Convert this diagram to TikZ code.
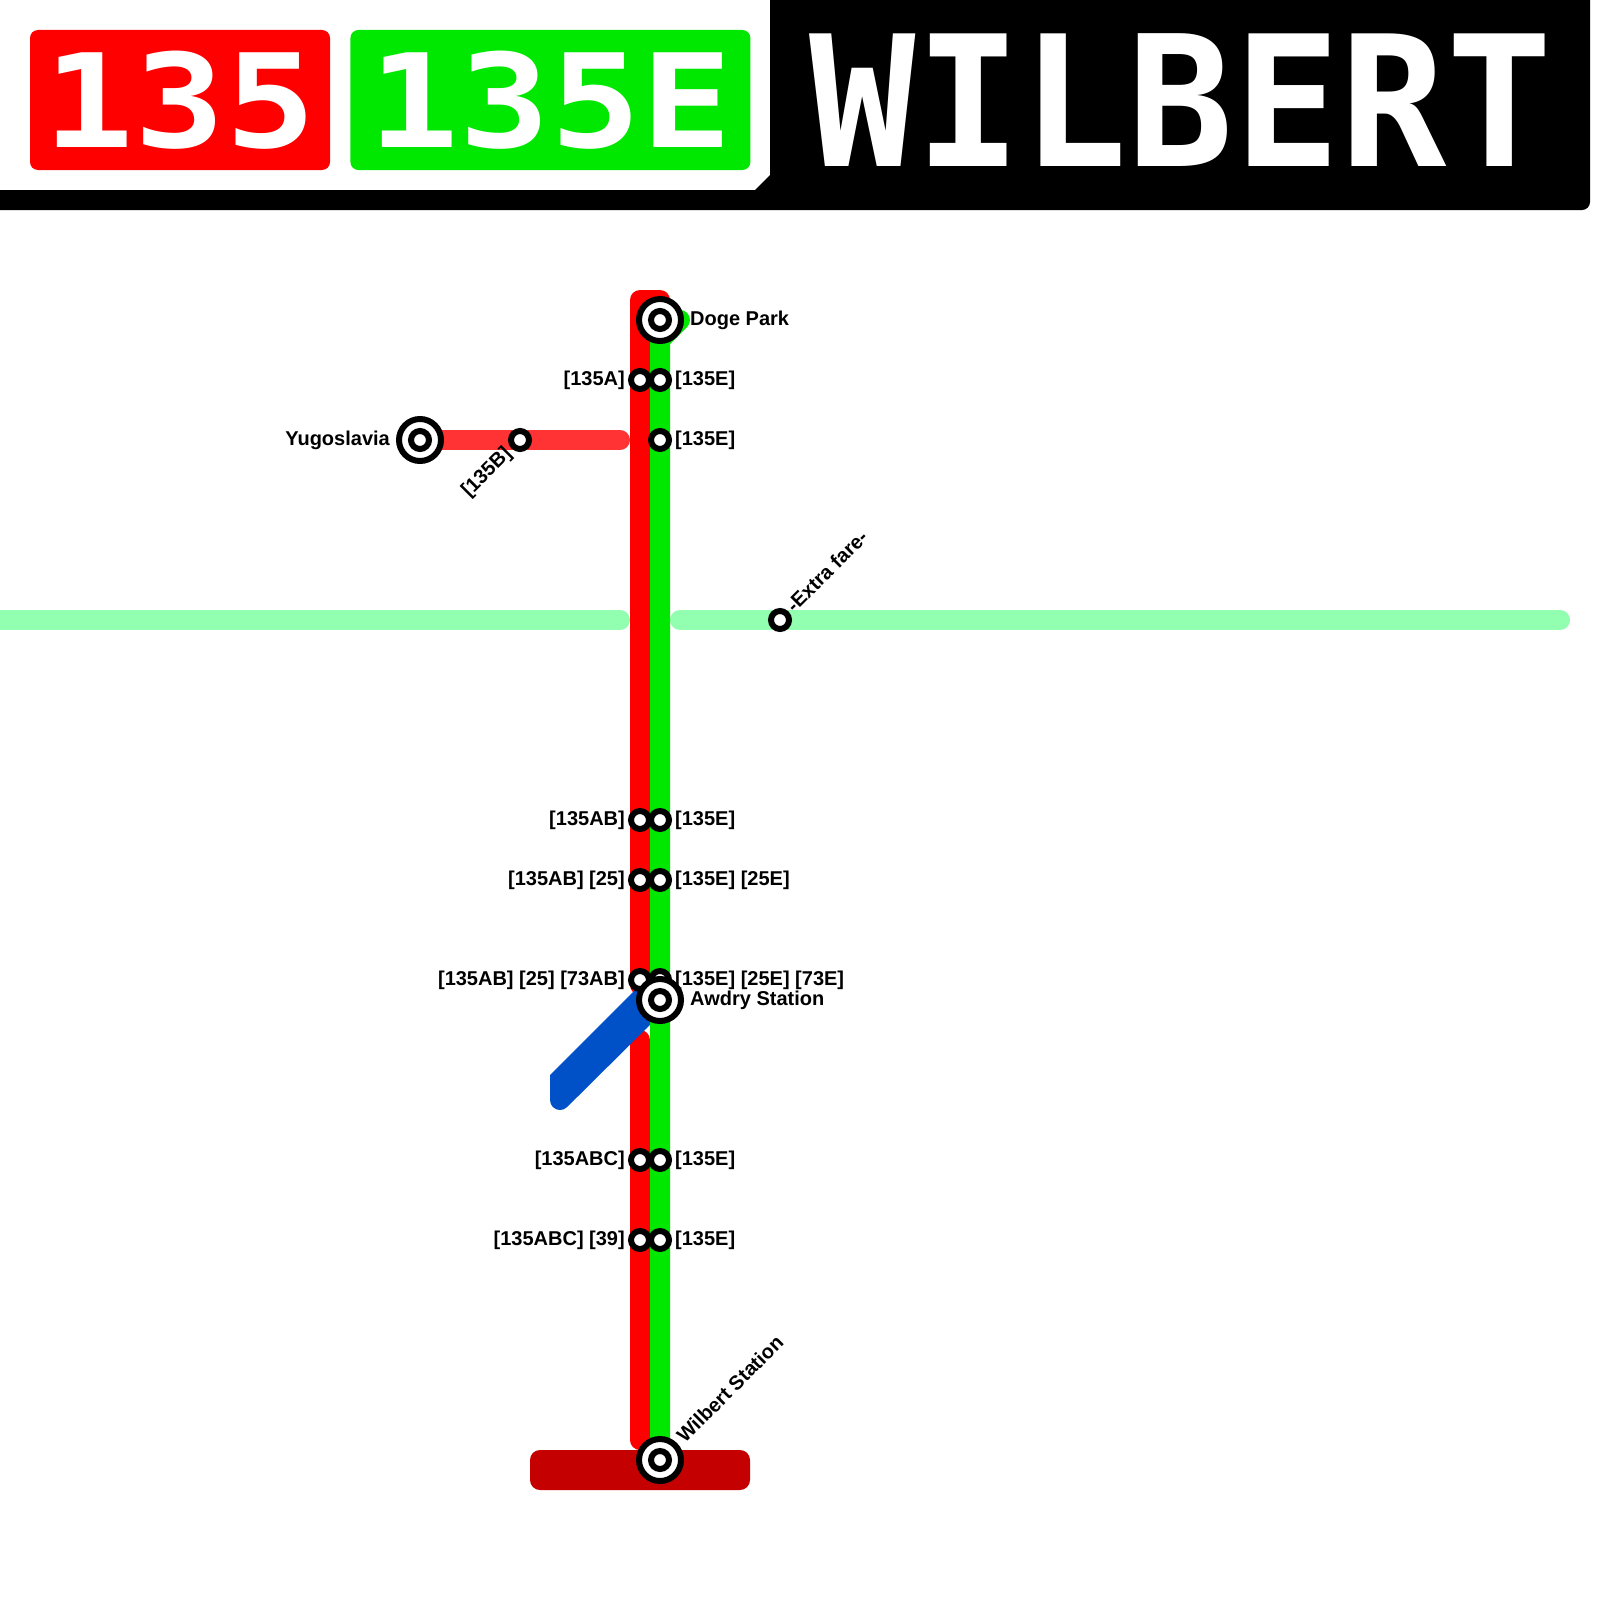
\documentclass[tikz,border=0pt]{standalone}
\usepackage{graphicx}
\usepackage{fontspec}
\setmainfont{Liberation Sans}
\newfontfamily\signfont{DejaVu Sans Mono}
\usepackage{xcolor}
\usetikzlibrary{positioning}
\definecolor{lineRed}{RGB}{255, 0, 0}
\definecolor{lineGreen}{RGB}{0, 232, 0}
\definecolor{paleGreen}{RGB}{145, 255, 175}
\definecolor{paleRed}{RGB}{255, 51, 51}
\definecolor{darkRed}{RGB}{196, 0, 0}
\definecolor{lineBlue}{RGB}{0, 80, 200}
\tikzset{
    route/.style={line width=20pt, line cap=round, line join=round},
    stn/.style={circle, draw=black, fill=white, line width=6pt, minimum size=18pt, inner sep=0pt},
    bigstn/.style={circle, draw=black, fill=white, line width=6pt, minimum size=42pt, inner sep=0pt,
        path picture={\draw[black, line width=6pt] (path picture bounding box.center) circle (9pt);}},
    lbl/.style={font=\bfseries\fontsize{20}{20}\selectfont, text=black, inner sep=0pt, text height=15pt, text depth=4pt},
    badge/.style={rounded corners=8pt, minimum height=140pt, inner sep=0pt, text=white,
        font=\signfont\bfseries\fontsize{130}{130}\selectfont},
}
\begin{document}
\begin{tikzpicture}[x=1pt, y=-1pt]
    \useasboundingbox (0,0) rectangle (1600,1600);
    % header
    \fill[black] (770,0) -- (1590,0) [rounded corners=8pt] -- (1590,210) [sharp corners] -- (0,210) -- (0,190) -- (755,190) -- (770,175) -- cycle;
    \node[badge, fill=lineRed, minimum width=300pt] (badgeA) at (180,100) {\scalebox{1.16}[1]{135}};
    \node[badge, fill=lineGreen, minimum width=400pt, right=20pt of badgeA] (badgeE) {\scalebox{1.16}[1]{135E}};
    \node[text=white, inner sep=0pt, font=\signfont\bfseries\fontsize{182}{182}\selectfont] (title) at (1181,100) {\scalebox{.97}[1]{WILBERT}};
    % line ends
    \coordinate (cdoge) at (660,320);
    \coordinate (cyug) at (420,440);
    \coordinate (cawdry) at (660,1000);
    \coordinate (cwilbert) at (660,1460);
    \coordinate (redtop) at (660,300);
    \coordinate (redbend) at (640,300);
    \coordinate (redcut) at (640,985);
    \coordinate (redrestart) at (640,1040);
    \coordinate (redend) at (640,1440);
    \coordinate (greentip) at (680,320);
    \coordinate (greenbend) at (660,340);
    \coordinate (branchend) at (620,440);
    \coordinate (farewest) at (-20,620);
    \coordinate (farewestend) at (620,620);
    \coordinate (fareeast) at (680,620);
    \coordinate (fareeastend) at (1560,620);
    % lines
    \draw[route, paleGreen] (farewest) -- (farewestend);
    \draw[route, paleGreen] (fareeast) -- (fareeastend);
    \draw[route, paleRed] (cyug) -- (branchend);
    \draw[route, lineRed] (redtop) -- (redbend) -- (redcut);
    \draw[route, lineRed] (redrestart) -- (redend);
    \fill[lineBlue] (655,970) -- (550,1075) -- (550,1100) arc (180:45:10) -- (672,1003) -- cycle;
    \draw[route, lineGreen] (greentip) -- (greenbend) -- (cwilbert);
    \fill[darkRed, rounded corners=10pt] (530,1450) rectangle (750,1490);
    % stations, west side
    \foreach \name/\ypos in {wa/380, wb/820, wc/880, wd/980, we/1160, wf/1240}
        \node[stn] (\name) at (640,\ypos) {};
    % stations, east side
    \foreach \name/\ypos in {ea/380, eb/440, ec/820, ed/880, ee/980, ef/1160, eg/1240}
        \node[stn] (\name) at (660,\ypos) {};
    \node[stn] (branchstop) at (520,440) {};
    \node[stn] (farestop) at (780,620) {};
    \node[bigstn] (doge) at (cdoge) {};
    \node[bigstn] (yugo) at (cyug) {};
    \node[bigstn] (awdry) at (cawdry) {};
    \node[bigstn] (wilbert) at (cwilbert) {};
    % labels
    \node[lbl, right=6pt of doge] (ldoge) {Doge Park};
    \node[lbl, left=6pt of yugo] (lyugo) {Yugoslavia};
    \node[lbl, right=6pt of awdry] (lawdry) {Awdry Station};
    \node[lbl, left=3pt of wa] (lwa) {[135A]};
    \node[lbl, left=3pt of wb] (lwb) {[135AB]};
    \node[lbl, left=3pt of wc] (lwc) {[135AB] [25]};
    \node[lbl, left=3pt of wd] (lwd) {[135AB] [25] [73AB]};
    \node[lbl, left=3pt of we] (lwe) {[135ABC]};
    \node[lbl, left=3pt of wf] (lwf) {[135ABC] [39]};
    \node[lbl, right=3pt of ea] (lea) {[135E]};
    \node[lbl, right=3pt of eb] (leb) {[135E]};
    \node[lbl, right=3pt of ec] (lec) {[135E]};
    \node[lbl, right=3pt of ed] (led) {[135E] [25E]};
    \node[lbl, right=3pt of ee] (lee) {[135E] [25E] [73E]};
    \node[lbl, right=3pt of ef] (lef) {[135E]};
    \node[lbl, right=3pt of eg] (leg) {[135E]};
    \node[lbl, rotate=45, anchor=east] (lbranch) at ([shift={(-3,2)}]branchstop.225) {[135B]};
    \node[lbl, rotate=45, anchor=west] (lfare) at ([shift={(2,-2)}]farestop.45) {-Extra fare-};
    \node[lbl, rotate=45, anchor=west] (lwilbert) at ([shift={(4,-3)}]wilbert.45) {Wilbert Station};
\end{tikzpicture}
\end{document}
